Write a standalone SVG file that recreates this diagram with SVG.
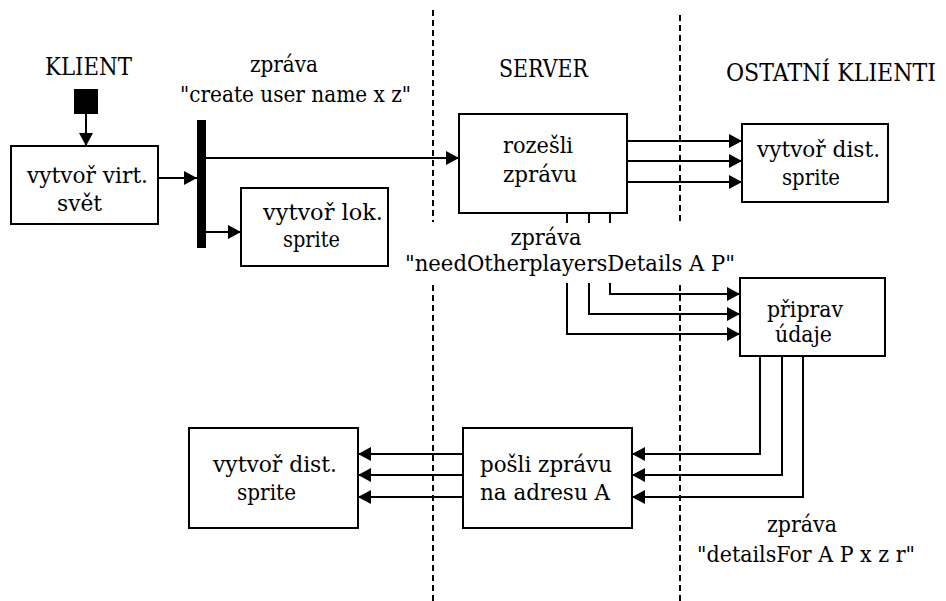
<svg xmlns="http://www.w3.org/2000/svg" width="946" height="601" viewBox="0 0 946 601">
  <style>
    text { font-family: 'DejaVu Serif', serif; font-size: 23px; fill: #000; text-anchor: middle; }
    text.head { font-size: 24px; }
    .box { fill: #fff; stroke: #000; stroke-width: 2; }
    .wire { fill: none; stroke: #000; stroke-width: 2; }
    .arrow { marker-end: url(#head); }
    .lane { stroke: #000; stroke-width: 2; stroke-dasharray: 6 4; fill: none; }
  </style>
  <defs>
    <marker id="head" markerUnits="userSpaceOnUse" markerWidth="14" markerHeight="14" refX="13" refY="7" orient="auto">
      <path d="M0,0 L13,7 L0,14 z" fill="#000"/>
    </marker>
  </defs>
  <rect width="946" height="601" fill="#fff"/>

  <!-- swimlane separators -->
  <g id="lanes">
    <line class="lane" x1="433" y1="10" x2="433" y2="222"/>
    <line class="lane" x1="433" y1="285" x2="433" y2="601"/>
    <line class="lane" x1="680" y1="15" x2="680" y2="221"/>
    <line class="lane" x1="680" y1="285" x2="680" y2="601"/>
  </g>

  <!-- lane headings and message labels -->
  <g id="labels">
    <text class="head" x="88.5" y="75" textLength="87" lengthAdjust="spacingAndGlyphs">KLIENT</text>
    <text class="head" x="543.5" y="77" textLength="89" lengthAdjust="spacingAndGlyphs">SERVER</text>
    <text class="head" x="831" y="81" textLength="210" lengthAdjust="spacingAndGlyphs">OSTATNÍ KLIENTI</text>
    <text x="284" y="72" textLength="68" lengthAdjust="spacingAndGlyphs">zpráva</text>
    <text x="295.5" y="102" textLength="231" lengthAdjust="spacingAndGlyphs">"create user name x z"</text>
    <text x="546" y="245" textLength="71" lengthAdjust="spacingAndGlyphs">zpráva</text>
    <text x="570" y="271" textLength="330" lengthAdjust="spacingAndGlyphs">"needOtherplayersDetails A P"</text>
    <text x="802" y="532" textLength="70" lengthAdjust="spacingAndGlyphs">zpráva</text>
    <text x="806" y="562" textLength="218" lengthAdjust="spacingAndGlyphs">"detailsFor A P x z r"</text>
  </g>

  <g id="start">
    <rect x="74" y="89" width="24" height="25" fill="#000"/>
  </g>

  <g id="fork">
    <rect x="197" y="120" width="9" height="128" fill="#000"/>
  </g>

  <g id="virt-svet">
    <rect class="box" x="11" y="146" width="147" height="78"/>
    <text x="87.5" y="183" textLength="121" lengthAdjust="spacingAndGlyphs">vytvoř virt.</text>
    <text x="79.5" y="211" textLength="45" lengthAdjust="spacingAndGlyphs">svět</text>
  </g>

  <g id="lok-sprite">
    <rect class="box" x="241" y="188" width="147" height="78"/>
    <text x="323" y="220" textLength="120" lengthAdjust="spacingAndGlyphs">vytvoř lok.</text>
    <text x="311.5" y="247" textLength="57" lengthAdjust="spacingAndGlyphs">sprite</text>
  </g>

  <g id="rozesli">
    <rect class="box" x="459" y="114" width="168" height="99"/>
    <text x="538" y="153" textLength="70" lengthAdjust="spacingAndGlyphs">rozešli</text>
    <text x="540" y="182" textLength="74" lengthAdjust="spacingAndGlyphs">zprávu</text>
  </g>

  <g id="dist-sprite-remote">
    <rect class="box" x="742" y="124" width="146" height="78"/>
    <text x="818.5" y="157" textLength="123" lengthAdjust="spacingAndGlyphs">vytvoř dist.</text>
    <text x="811" y="185" textLength="58" lengthAdjust="spacingAndGlyphs">sprite</text>
  </g>

  <g id="priprav">
    <rect class="box" x="740" y="278" width="145" height="78"/>
    <text x="805" y="317" textLength="76" lengthAdjust="spacingAndGlyphs">připrav</text>
    <text x="803.5" y="342" textLength="57" lengthAdjust="spacingAndGlyphs">údaje</text>
  </g>

  <g id="posli">
    <rect class="box" x="463" y="428" width="169" height="100"/>
    <text x="546" y="472" textLength="132" lengthAdjust="spacingAndGlyphs">pošli zprávu</text>
    <text x="545" y="500" textLength="130" lengthAdjust="spacingAndGlyphs">na adresu A</text>
  </g>

  <g id="dist-sprite-local">
    <rect class="box" x="189" y="428" width="169" height="100"/>
    <text x="275" y="472" textLength="124" lengthAdjust="spacingAndGlyphs">vytvoř dist.</text>
    <text x="266.5" y="500" textLength="59" lengthAdjust="spacingAndGlyphs">sprite</text>
  </g>

  <g id="connectors">
    <line class="wire arrow" x1="86" y1="114" x2="86" y2="146"/>
    <line class="wire arrow" x1="158" y1="178" x2="197" y2="178"/>
    <line class="wire arrow" x1="206" y1="158" x2="459" y2="158"/>
    <line class="wire arrow" x1="206" y1="232" x2="241" y2="232"/>

    <line class="wire arrow" x1="627" y1="141" x2="742" y2="141"/>
    <line class="wire arrow" x1="627" y1="161" x2="742" y2="161"/>
    <line class="wire arrow" x1="627" y1="182" x2="742" y2="182"/>

    <line class="wire" x1="567" y1="213" x2="567" y2="223"/>
    <line class="wire" x1="589" y1="213" x2="589" y2="223"/>
    <line class="wire" x1="610" y1="213" x2="610" y2="223"/>
    <polyline class="wire arrow" points="610,283 610,294 740,294"/>
    <polyline class="wire arrow" points="589,283 589,314 740,314"/>
    <polyline class="wire arrow" points="567,283 567,334 740,334"/>

    <polyline class="wire arrow" points="760,356 760,454 632,454"/>
    <polyline class="wire arrow" points="782,356 782,475 632,475"/>
    <polyline class="wire arrow" points="803,356 803,497 632,497"/>

    <line class="wire arrow" x1="463" y1="454" x2="358" y2="454"/>
    <line class="wire arrow" x1="463" y1="475" x2="358" y2="475"/>
    <line class="wire arrow" x1="463" y1="497" x2="358" y2="497"/>
  </g>
</svg>
